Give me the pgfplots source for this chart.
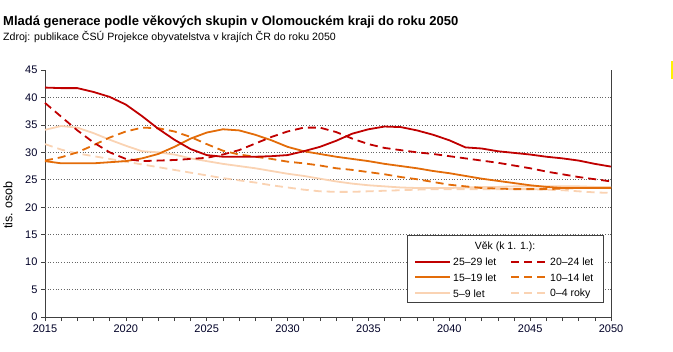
\documentclass[border=0pt]{standalone}
\usepackage{pgfplots}
\pgfplotsset{compat=1.18}
\usepackage{pgfplotstable}
\usepackage{fontspec}
\setmainfont{Liberation Sans}
\definecolor{cdred}{HTML}{C00000}
\definecolor{corange}{HTML}{E36C09}
\definecolor{cpeach}{HTML}{FAD3B3}
\definecolor{caxis}{HTML}{404040}

\pgfplotstableread{
year a2529 a2024 a1519 a1014 a0509 a0004
2015 41.8 39.0 28.4 28.5 34.1 31.5
2016 41.7 36.5 28.0 29.1 34.8 30.5
2017 41.7 34.0 28.0 30.0 34.5 29.8
2018 41.0 31.8 28.0 31.3 33.5 29.3
2019 40.1 30.0 28.2 32.7 32.3 28.8
2020 38.7 28.8 28.4 33.8 31.2 28.3
2021 36.6 28.4 28.9 34.5 30.2 27.8
2022 34.3 28.5 29.7 34.4 30.0 27.3
2023 32.3 28.6 31.0 33.8 29.6 26.8
2024 30.6 28.8 32.5 32.8 28.9 26.3
2025 29.5 29.0 33.6 31.5 28.4 25.8
2026 29.2 29.6 34.2 30.3 27.9 25.3
2027 29.2 30.4 34.0 29.6 27.5 24.9
2028 29.2 31.6 33.2 29.2 27.1 24.5
2029 29.3 32.8 32.2 28.8 26.6 24.0
2030 29.5 33.8 31.0 28.3 26.1 23.6
2031 30.2 34.5 30.2 28.0 25.7 23.2
2032 31.0 34.5 29.7 27.6 25.2 22.9
2033 32.1 33.7 29.2 27.1 24.7 22.8
2034 33.4 32.5 28.8 26.8 24.3 22.8
2035 34.2 31.5 28.4 26.4 24.0 22.9
2036 34.7 30.8 27.9 26.0 23.8 23.0
2037 34.6 30.4 27.5 25.5 23.6 23.1
2038 34.0 30.0 27.1 25.1 23.5 23.2
2039 33.2 29.7 26.6 24.6 23.5 23.3
2040 32.2 29.3 26.2 24.1 23.5 23.3
2041 30.9 28.9 25.7 23.8 23.6 23.3
2042 30.7 28.5 25.2 23.5 23.7 23.3
2043 30.2 28.1 24.8 23.4 23.7 23.3
2044 29.9 27.6 24.4 23.3 23.8 23.3
2045 29.6 27.1 24.0 23.3 23.8 23.3
2046 29.2 26.5 23.7 23.3 23.8 23.2
2047 28.9 26.0 23.5 23.4 23.8 23.1
2048 28.5 25.5 23.5 23.5 23.8 22.9
2049 27.9 25.1 23.5 23.5 23.7 22.7
2050 27.4 24.7 23.5 23.5 23.7 22.6
}\datatable

\begin{document}
\begin{tikzpicture}[x=1bp,y=1bp]
\useasboundingbox (0,0) rectangle (673,351);
\begin{axis}[
  at={(45bp,34bp)}, anchor=south west,
  scale only axis, width=566bp, height=247bp,
  xmin=2015, xmax=2050, ymin=0, ymax=45,
  axis x line*=bottom, axis y line*=left,
  axis line style={caxis, line width=0.8bp},
  xtick={2015,2020,...,2050}, minor x tick num=4,
  ytick={0,5,...,45},
  tick align=outside,
  major tick length=4bp, minor tick length=4bp,
  tick style={caxis, line width=0.6bp},
  x tick label style={/pgf/number format/1000 sep={}},
  tick label style={font=\fontsize{11bp}{12bp}\selectfont, text=black!85!blue},
  /pgf/number format/assume math mode=true,
  clip=false,
]
\pgfplotsinvokeforeach{5,10,...,40}{
  \draw[gray!80!black, dotted, line width=0.7bp] (axis cs:2015,#1) -- (axis cs:2050,#1);
}
\draw[caxis, line width=0.8bp] (rel axis cs:1,0) -- (rel axis cs:1,1);
\addplot[cpeach, line width=1.8bp, dash pattern=on 8bp off 5bp] table[x=year,y=a0004] {\datatable};
\addplot[cpeach, line width=1.8bp] table[x=year,y=a0509] {\datatable};
\addplot[corange, line width=1.8bp, dash pattern=on 8bp off 5bp] table[x=year,y=a1014] {\datatable};
\addplot[corange, line width=1.8bp] table[x=year,y=a1519] {\datatable};
\addplot[cdred, line width=1.8bp, dash pattern=on 8bp off 5bp] table[x=year,y=a2024] {\datatable};
\addplot[cdred, line width=1.8bp] table[x=year,y=a2529] {\datatable};
\end{axis}
% title and subtitle
\node[anchor=base west, inner sep=0] at (3,326) {\fontsize{13bp}{15bp}\selectfont\bfseries Mladá generace podle věkových skupin v Olomouckém kraji do roku 2050};
\node[anchor=base west, inner sep=0] at (3,310.5) {\fontsize{10.6bp}{12bp}\selectfont Zdroj: publikace ČSÚ Projekce obyvatelstva v krajích ČR do roku 2050};
% y label
\node[rotate=90, inner sep=0] at (8,146) {\fontsize{12.5bp}{14bp}\selectfont tis. osob};
% legend
\draw[caxis, line width=0.8bp, fill=white] (407,49) rectangle (603,116);
\node[anchor=base, inner sep=0] at (505,101.7) {\fontsize{10.5bp}{12bp}\selectfont Věk (k 1. 1.):};
\begin{scope}[font=\fontsize{10.5bp}{12bp}\selectfont]
\draw[cdred, line width=1.8bp] (415,89.3) -- (450,89.3);
\node[anchor=west, inner sep=0] at (453,89.3) {25–29 let};
\draw[cdred, line width=1.8bp, dash pattern=on 8bp off 5bp] (511,89.3) -- (547,89.3);
\node[anchor=west, inner sep=0] at (550,89.3) {20–24 let};
\draw[corange, line width=1.8bp] (415,73.7) -- (450,73.7);
\node[anchor=west, inner sep=0] at (453,73.7) {15–19 let};
\draw[corange, line width=1.8bp, dash pattern=on 8bp off 5bp] (511,73.7) -- (547,73.7);
\node[anchor=west, inner sep=0] at (550,73.7) {10–14 let};
\draw[cpeach, line width=1.8bp] (415,57.7) -- (450,57.7);
\node[anchor=west, inner sep=0] at (453,57.7) {5–9 let};
\draw[cpeach, line width=1.8bp, dash pattern=on 8bp off 5bp] (511,57.7) -- (547,57.7);
\node[anchor=west, inner sep=0] at (550,57.7) {0–4 roky};
\end{scope}
% small yellow mark at right edge
\fill[yellow] (671,272) rectangle (673,290);
\end{tikzpicture}
\end{document}
